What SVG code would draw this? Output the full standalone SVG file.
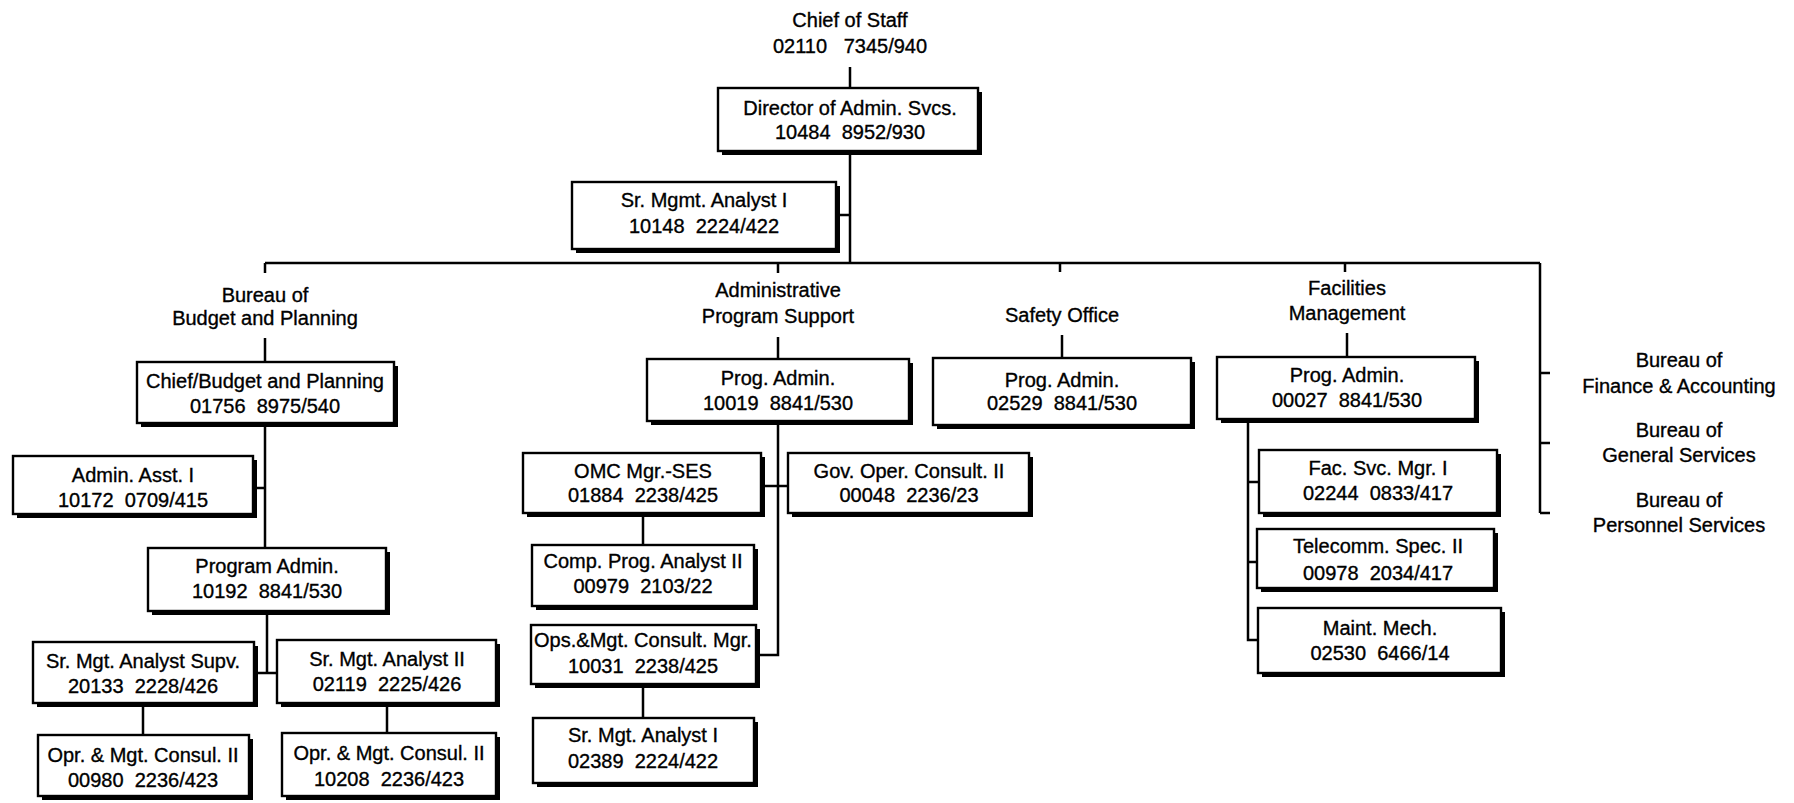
<svg xmlns="http://www.w3.org/2000/svg" width="1794" height="803" viewBox="0 0 1794 803">
<style>
  text { font-family: "Liberation Sans", Arial, sans-serif; font-size: 20px; fill: #000; stroke: #000; stroke-width: 0.35; text-anchor: middle; white-space: pre; }
  .sh { fill: #000; }
  .bx { fill: #fff; stroke: #000; stroke-width: 2.4; }
  .ln { fill: none; stroke: #000; stroke-width: 2.5; }
</style>
<rect width="1794" height="803" fill="#fff"/>

<!-- connectors -->
<g id="connectors" class="ln">
  <path d="M850 67V88M850 151V263"/>
  <path d="M836 215H850"/>
  <path d="M265 263H1540"/>
  <path d="M265 263V273M778 263V273M1060 263V272M1345 263V272"/>
  <path d="M1540 263V513M1540 373H1550M1540 443H1550M1540 513H1550"/>
  <!-- budget and planning -->
  <path d="M265 338V362M265 423V548M253 488H265"/>
  <path d="M267 611V673M254 673H277"/>
  <path d="M143 703V735M387 703V733"/>
  <!-- administrative program support -->
  <path d="M778 337V359M778 421V655H756"/>
  <path d="M761 486H788"/>
  <path d="M643 513V545M643 684V718"/>
  <!-- safety office -->
  <path d="M1062 335V358"/>
  <!-- facilities management -->
  <path d="M1347 333V357"/>
  <path d="M1248 419V640H1258M1248 482H1259M1248 562H1257"/>
</g>

<!-- unboxed labels -->
<g id="chief-of-staff">
  <text x="850" y="27">Chief of Staff</text>
  <text x="850" y="53">02110   7345/940</text>
</g>
<g id="label-budget">
  <text x="265" y="302">Bureau of</text>
  <text x="265" y="325">Budget and Planning</text>
</g>
<g id="label-aps">
  <text x="778" y="297">Administrative</text>
  <text x="778" y="323">Program Support</text>
</g>
<g id="label-safety">
  <text x="1062" y="322">Safety Office</text>
</g>
<g id="label-facilities">
  <text x="1347" y="295">Facilities</text>
  <text x="1347" y="320">Management</text>
</g>
<g id="bureau-finance">
  <text x="1679" y="367">Bureau of</text>
  <text x="1679" y="393">Finance &amp; Accounting</text>
</g>
<g id="bureau-general">
  <text x="1679" y="437">Bureau of</text>
  <text x="1679" y="462">General Services</text>
</g>
<g id="bureau-personnel">
  <text x="1679" y="507">Bureau of</text>
  <text x="1679" y="532">Personnel Services</text>
</g>

<!-- position boxes: shadow rect offset behind a white outlined rect -->
<g id="director">
  <rect class="sh" x="722" y="92" width="260" height="63"/>
  <rect class="bx" x="718" y="88" width="260" height="63"/>
  <text x="850" y="115">Director of Admin. Svcs.</text>
  <text x="850" y="139">10484  8952/930</text>
</g>
<g id="sr-mgmt-analyst-top">
  <rect class="sh" x="576" y="186" width="264" height="67"/>
  <rect class="bx" x="572" y="182" width="264" height="67"/>
  <text x="704" y="207">Sr. Mgmt. Analyst I</text>
  <text x="704" y="233">10148  2224/422</text>
</g>

<g id="chief-budget">
  <rect class="sh" x="141" y="366" width="257" height="61"/>
  <rect class="bx" x="137" y="362" width="257" height="61"/>
  <text x="265" y="388">Chief/Budget and Planning</text>
  <text x="265" y="413">01756  8975/540</text>
</g>
<g id="admin-asst">
  <rect class="sh" x="17" y="460" width="240" height="58"/>
  <rect class="bx" x="13" y="456" width="240" height="58"/>
  <text x="133" y="482">Admin. Asst. I</text>
  <text x="133" y="507">10172  0709/415</text>
</g>
<g id="program-admin">
  <rect class="sh" x="152" y="552" width="238" height="63"/>
  <rect class="bx" x="148" y="548" width="238" height="63"/>
  <text x="267" y="573">Program Admin.</text>
  <text x="267" y="598">10192  8841/530</text>
</g>
<g id="analyst-supv">
  <rect class="sh" x="37" y="646" width="221" height="61"/>
  <rect class="bx" x="33" y="642" width="221" height="61"/>
  <text x="143" y="668">Sr. Mgt. Analyst Supv.</text>
  <text x="143" y="693">20133  2228/426</text>
</g>
<g id="analyst-ii">
  <rect class="sh" x="281" y="644" width="219" height="63"/>
  <rect class="bx" x="277" y="640" width="219" height="63"/>
  <text x="387" y="666">Sr. Mgt. Analyst II</text>
  <text x="387" y="691">02119  2225/426</text>
</g>
<g id="opr-consul-left">
  <rect class="sh" x="42" y="739" width="211" height="61"/>
  <rect class="bx" x="38" y="735" width="211" height="61"/>
  <text x="143" y="762">Opr. &amp; Mgt. Consul. II</text>
  <text x="143" y="787">00980  2236/423</text>
</g>
<g id="opr-consul-right">
  <rect class="sh" x="286" y="737" width="214" height="63"/>
  <rect class="bx" x="282" y="733" width="214" height="63"/>
  <text x="389" y="760">Opr. &amp; Mgt. Consul. II</text>
  <text x="389" y="786">10208  2236/423</text>
</g>

<g id="aps-prog-admin">
  <rect class="sh" x="651" y="363" width="262" height="62"/>
  <rect class="bx" x="647" y="359" width="262" height="62"/>
  <text x="778" y="385">Prog. Admin.</text>
  <text x="778" y="410">10019  8841/530</text>
</g>
<g id="omc-mgr">
  <rect class="sh" x="527" y="457" width="238" height="60"/>
  <rect class="bx" x="523" y="453" width="238" height="60"/>
  <text x="643" y="478">OMC Mgr.-SES</text>
  <text x="643" y="502">01884  2238/425</text>
</g>
<g id="gov-oper">
  <rect class="sh" x="792" y="457" width="241" height="60"/>
  <rect class="bx" x="788" y="453" width="241" height="60"/>
  <text x="909" y="478">Gov. Oper. Consult. II</text>
  <text x="909" y="502">00048  2236/23</text>
</g>
<g id="comp-prog">
  <rect class="sh" x="536" y="549" width="222" height="61"/>
  <rect class="bx" x="532" y="545" width="222" height="61"/>
  <text x="643" y="568">Comp. Prog. Analyst II</text>
  <text x="643" y="593">00979  2103/22</text>
</g>
<g id="ops-mgt">
  <rect class="sh" x="535" y="629" width="225" height="59"/>
  <rect class="bx" x="531" y="625" width="225" height="59"/>
  <text x="643" y="647">Ops.&amp;Mgt. Consult. Mgr.</text>
  <text x="643" y="673">10031  2238/425</text>
</g>
<g id="sr-mgt-analyst-bottom">
  <rect class="sh" x="537" y="722" width="221" height="65"/>
  <rect class="bx" x="533" y="718" width="221" height="65"/>
  <text x="643" y="742">Sr. Mgt. Analyst I</text>
  <text x="643" y="768">02389  2224/422</text>
</g>

<g id="safety-prog-admin">
  <rect class="sh" x="937" y="362" width="258" height="67"/>
  <rect class="bx" x="933" y="358" width="258" height="67"/>
  <text x="1062" y="387">Prog. Admin.</text>
  <text x="1062" y="410">02529  8841/530</text>
</g>

<g id="fac-prog-admin">
  <rect class="sh" x="1221" y="361" width="258" height="62"/>
  <rect class="bx" x="1217" y="357" width="258" height="62"/>
  <text x="1347" y="382">Prog. Admin.</text>
  <text x="1347" y="407">00027  8841/530</text>
</g>
<g id="fac-svc-mgr">
  <rect class="sh" x="1263" y="454" width="238" height="63"/>
  <rect class="bx" x="1259" y="450" width="238" height="63"/>
  <text x="1378" y="475">Fac. Svc. Mgr. I</text>
  <text x="1378" y="500">02244  0833/417</text>
</g>
<g id="telecomm">
  <rect class="sh" x="1261" y="533" width="237" height="59"/>
  <rect class="bx" x="1257" y="529" width="237" height="59"/>
  <text x="1378" y="553">Telecomm. Spec. II</text>
  <text x="1378" y="580">00978  2034/417</text>
</g>
<g id="maint-mech">
  <rect class="sh" x="1262" y="612" width="243" height="65"/>
  <rect class="bx" x="1258" y="608" width="243" height="65"/>
  <text x="1380" y="635">Maint. Mech.</text>
  <text x="1380" y="660">02530  6466/14</text>
</g>
</svg>
